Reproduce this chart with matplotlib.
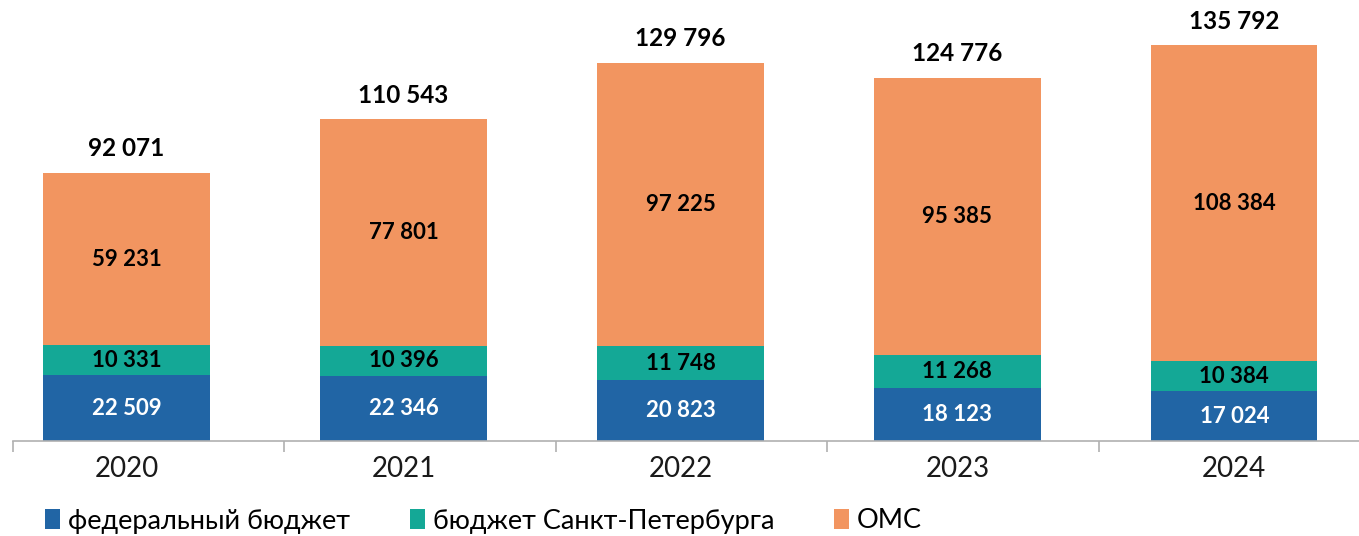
import matplotlib.pyplot as plt
import numpy as np

plt.rcParams['font.family'] = ['Lato', 'DejaVu Sans']

years = ['2020', '2021', '2022', '2023', '2024']
federal = [22509, 22346, 20823, 18123, 17024]
spb = [10331, 10396, 11748, 11268, 10384]
oms = [59231, 77801, 97225, 95385, 108384]
totals = [92071, 110543, 129796, 124776, 135792]
series_names = ['федеральный бюджет', 'бюджет Санкт-Петербурга', 'ОМС']

c_blue = '#2165A5'
c_teal = '#14A896'
c_orange = '#F29560'


def fmt(v):
    return f'{v:,}'.replace(',', ' ')


fig = plt.figure(figsize=(13.59, 5.36), dpi=100)
ax = fig.add_axes([13 / 1359, 95 / 536, 1 - 13 / 1359, 441 / 536])

x = np.arange(len(years))
w = 0.6
fed = np.array(federal)
sp = np.array(spb)
om = np.array(oms)

b1 = ax.bar(x, fed, w, color=c_blue, label=series_names[0])
b2 = ax.bar(x, sp, w, bottom=fed, color=c_teal, label=series_names[1])
b3 = ax.bar(x, om, w, bottom=fed + sp, color=c_orange, label=series_names[2])

for i in range(len(years)):
    ax.text(x[i], fed[i] / 2, fmt(fed[i]), ha='center', va='center',
            color='white', fontsize=16, fontweight='bold')
    ax.text(x[i], fed[i] + sp[i] / 2, fmt(sp[i]), ha='center', va='center',
            color='black', fontsize=16, fontweight='bold')
    ax.text(x[i], fed[i] + sp[i] + om[i] / 2, fmt(om[i]), ha='center', va='center',
            color='black', fontsize=16, fontweight='bold')
    ax.annotate(fmt(totals[i]), (x[i], totals[i]), xytext=(0, 9),
                textcoords='offset points', ha='center', va='bottom',
                fontsize=17.5, fontweight='bold')

ax.set_xlim(-0.41, 4.45)
ax.set_ylim(0, 151400)

for s in ['top', 'right', 'left']:
    ax.spines[s].set_visible(False)
ax.spines['bottom'].set_color('#B0B0B0')
ax.spines['bottom'].set_linewidth(1.2)
ax.set_yticks([])

ax.set_xticks(x)
ax.set_xticklabels(years, fontsize=20, color='#1a1a1a')
ax.tick_params(axis='x', which='major', length=0, pad=11)
ax.set_xticks(x - 0.41 - 0.02 * x, minor=True)
ax.tick_params(axis='x', which='minor', length=8, color='#B0B0B0', width=1.2)

fig.legend(handles=[b1, b2, b3], loc='center left',
           bbox_to_anchor=(21 / 1359, 1 - 521 / 536),
           ncol=3, frameon=False, fontsize=19.5, handlelength=0.55,
           handleheight=0.75, handletextpad=0.3, columnspacing=2.2)

plt.savefig('out.png', dpi=100)
